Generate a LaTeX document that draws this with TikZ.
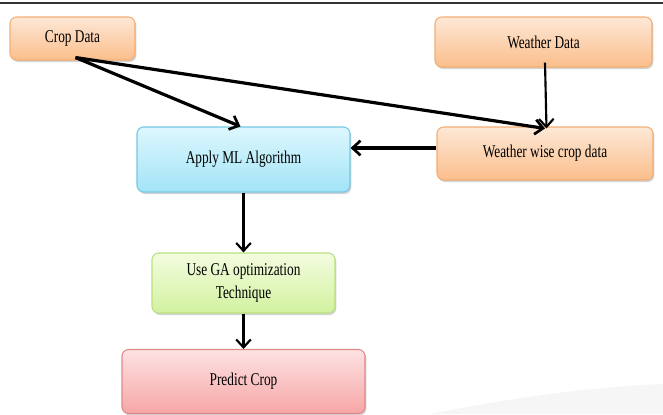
\documentclass[tikz,border=0pt]{standalone}
\usepackage{fontspec}
\setmainfont{Liberation Serif}[FakeStretch=0.74]
\usetikzlibrary{arrows.meta,shadows,calc}

\definecolor{orgtop}{HTML}{FDE8D6}
\definecolor{orgbot}{HTML}{FBBE8C}
\definecolor{orgline}{HTML}{F2AE74}
\definecolor{blutop}{HTML}{DDF7FE}
\definecolor{blubot}{HTML}{A2E4F7}
\definecolor{bluline}{HTML}{74C8E2}
\definecolor{grntop}{HTML}{F3FCE0}
\definecolor{grnbot}{HTML}{D2F29E}
\definecolor{grnline}{HTML}{B8E07E}
\definecolor{redtop}{HTML}{FDE2E2}
\definecolor{redbot}{HTML}{F7A6A6}
\definecolor{redline}{HTML}{DE8A8A}

\tikzset{
  box/.style={rounded corners=5pt, line width=0.8pt, align=center,
    font=\fontsize{13.5}{16}\selectfont, text=black,
    drop shadow={opacity=0.35, shadow xshift=1pt, shadow yshift=-1.5pt}},
  orangebox/.style={box, draw=orgline, top color=orgtop, bottom color=orgbot},
  bluebox/.style={box, draw=bluline, top color=blutop, bottom color=blubot},
  greenbox/.style={box, draw=grnline, top color=grntop, bottom color=grnbot},
  redbox/.style={box, draw=redline, top color=redtop, bottom color=redbot},
  thickarrow/.style={line width=2.4pt, -{Straight Barb[length=6pt,width=11pt,line width=2pt]}},
  thinarrow/.style={line width=1.6pt, -{Straight Barb[length=6pt,width=11pt,line width=1.6pt]}}
}

\begin{document}
\begin{tikzpicture}[x=0.75pt,y=-0.75pt]
  \useasboundingbox (0,0) rectangle (663,414);

  % faint background swoosh
  \fill[gray!7] (430,414) .. controls (530,394) and (610,386) .. (663,384) -- (663,414) -- cycle;

  % separator rule
  \draw[gray!40!black, line width=1.2pt] (0,3) -- (663,3);

  % boxes
  \node[orangebox, minimum width=93.75pt, minimum height=32.25pt] (crop) at (72.5,38.5) {Crop Data};
  \node[orangebox, minimum width=162.75pt, minimum height=37.5pt] (wd) at (543.5,42) {Weather Data};
  \node[bluebox, minimum width=159.75pt, minimum height=48.75pt] (ml) at (243.5,159.5) {Apply ML Algorithm};
  \node[orangebox, minimum width=162pt, minimum height=39.75pt] (ww) at (545,153.5) {Weather wise crop data};
  \node[greenbox, minimum width=137.25pt, minimum height=45pt] (ga) at (243.5,283) {Use GA optimization\\[1.5pt] Technique};
  \node[redbox, minimum width=182.25pt, minimum height=48pt] (pc) at (243.5,381.5) {Predict Crop};

  % connectors
  \coordinate (cs) at ($(crop.south)+(3,-3)$);
  \draw[thickarrow] (cs) -- ($(ml.north)+(-3,0)$);
  \draw[thickarrow] (cs) -- ($(ww.north)+(0,2)$);
  \draw[thinarrow] ($(wd.south)+(1.5,-5)$) -- ($(ww.north)+(1.5,2)$);
  \coordinate (wwl) at ($(ww.west)+(0,-5.5)$);
  \draw[thickarrow] (wwl) -- (wwl -| ml.east);
  \draw[thinarrow] (ml.south) -- (ga.north);
  \draw[thinarrow] (ga.south) -- (pc.north);
\end{tikzpicture}
\end{document}
